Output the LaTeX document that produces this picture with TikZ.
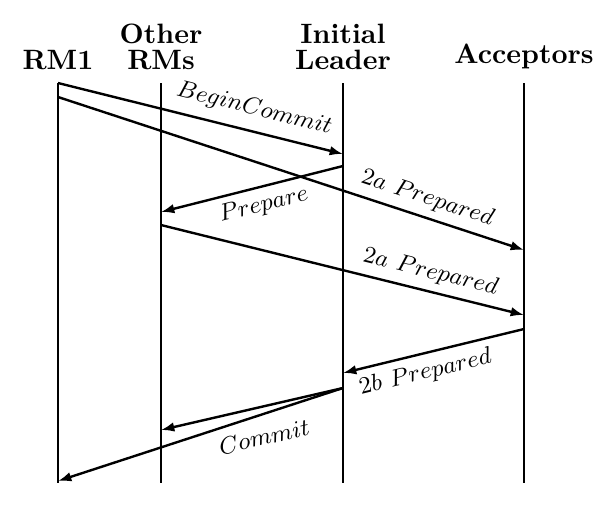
\documentclass[tikz,border=0pt]{standalone}
\usetikzlibrary{arrows.meta}
\begin{document}
\begin{tikzpicture}[x=0.375pt,y=-0.375pt,
  head/.style={font=\fontsize{10.5}{12}\selectfont\bfseries, align=center, anchor=base, inner sep=0pt},
  life/.style={line width=0.9pt},
  msg/.style={line width=0.9pt, -{Latex[length=5pt,width=3.6pt]}},
  lbl/.style={sloped, inner sep=1pt, font=\fontsize{9.3}{11}\selectfont}]
\useasboundingbox (0,0) rectangle (603,510);
% headers
\node[head] (hRM1) at (58,69) {RM1};
\node[head] (hOther) at (161,69) {Other\\[-2.5pt]RMs};
\node[head] (hLeader) at (343,69) {Initial\\[-2.5pt]Leader};
\node[head] (hAcc) at (524,63) {Acceptors};
% lifelines
\coordinate (t1) at (58,83);   \coordinate (b1) at (58,483);
\coordinate (t2) at (161,83);  \coordinate (b2) at (161,483);
\coordinate (t3) at (343,83);  \coordinate (b3) at (343,483);
\coordinate (t4) at (524,83);  \coordinate (b4) at (524,483);
\draw[life] (t1) -- (b1);
\draw[life] (t2) -- (b2);
\draw[life] (t3) -- (b3);
\draw[life] (t4) -- (b4);
% message endpoints
\coordinate (a1s) at (58,83);   \coordinate (a1e) at (343,154);
\coordinate (a2s) at (58,97);   \coordinate (a2e) at (524,250);
\coordinate (a3s) at (343,166); \coordinate (a3e) at (161,212);
\coordinate (a4s) at (161,225); \coordinate (a4e) at (524,315);
\coordinate (a5s) at (524,329); \coordinate (a5e) at (343,373);
\coordinate (a6s) at (343,388); \coordinate (a6e) at (161,430);
\coordinate (a7e) at (58,481);
% messages
\draw[msg] (a1s) -- node[lbl, above=3pt, pos=0.67] {$BeginCommit$} (a1e);
\draw[msg] (a2s) -- node[lbl, above=1.7pt, pos=0.78] {$2a\ Prepared$} (a2e);
\draw[msg] (a3s) -- node[lbl, below=1.5pt, pos=0.46] {$Prepare$} (a3e);
\draw[msg] (a4s) -- node[lbl, above=1.7pt, pos=0.73] {$2a\ Prepared$} (a4e);
\draw[msg] (a5s) -- node[lbl, below=1.8pt, pos=0.57] {$2b\ Prepared$} (a5e);
\draw[msg] (a6s) -- node[lbl, below=6.6pt, pos=0.47] {$Commit$} (a6e);
\draw[msg] (a6s) -- (a7e);
\end{tikzpicture}
\end{document}
